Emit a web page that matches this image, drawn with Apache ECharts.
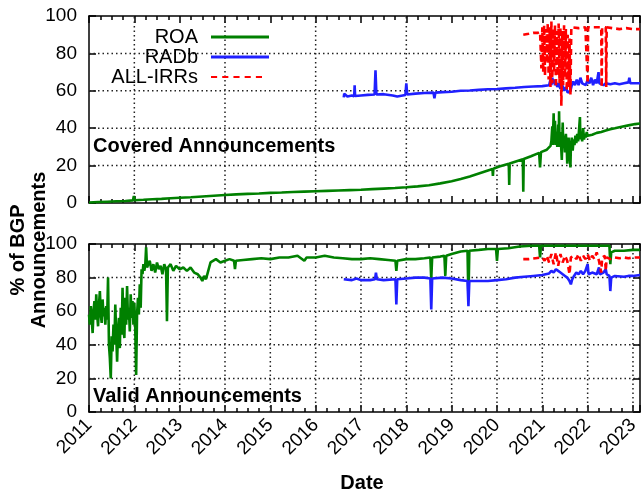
<!DOCTYPE html>
<html><head><meta charset="utf-8">
<script src="https://cdn.jsdelivr.net/npm/echarts@6/dist/echarts.min.js"></script>
<style>html,body{margin:0;padding:0;background:#fff}#c{width:644px;height:493px}</style>
</head><body><div id="c"></div>
<script>
// ---------- data (x = decimal year, y = % of BGP announcements) ----------
const seriesNames = ['ROA', 'RADb', 'ALL-IRRs'];
const panelTitles = ['Covered Announcements', 'Valid Announcements'];
const xRange = [2011, 2023.155];
const yRange = [0, 100];
const yStep = 20;
const yGridValues = [20, 40, 60, 80];
const gridYearsTop = [2012, 2014, 2016, 2018, 2020, 2022];
const gridYearsBottom = [2012, 2013, 2014, 2015, 2016, 2017, 2018, 2019, 2020, 2021, 2022, 2023];

const roaCovered = [
[2011.00,0.3],[2011.20,0.5],[2011.40,0.7],[2011.60,0.9],[2011.80,1.1],[2011.97,1.4],[2011.99,3.8],[2012.01,1.5],
[2012.20,1.7],[2012.40,2.0],[2012.60,2.2],[2012.80,2.5],[2013.00,2.8],[2013.25,3.1],[2013.50,3.5],[2013.75,3.9],
[2014.00,4.3],[2014.25,4.6],[2014.50,4.9],[2014.75,5.1],[2015.00,5.4],[2015.25,5.6],[2015.50,5.9],[2015.75,6.1],
[2016.00,6.3],[2016.25,6.5],[2016.50,6.7],[2016.75,6.9],[2017.00,7.1],[2017.25,7.4],[2017.50,7.7],[2017.75,8.0],
[2018.00,8.4],[2018.25,8.9],[2018.50,9.5],[2018.75,10.5],[2019.00,11.6],[2019.20,12.8],[2019.40,14.2],[2019.60,15.8],
[2019.80,17.4],[2019.90,18.2],[2019.91,14.5],[2019.92,18.3],[2020.05,19.5],[2020.26,21.0],[2020.27,9.6],[2020.28,21.1],
[2020.45,22.5],[2020.57,23.4],[2020.58,6.0],[2020.59,23.5],[2020.75,25.0],[2020.93,26.8],[2020.95,19.0],[2020.97,27.2],
[2021.10,28.5],[2021.18,30.5],[2021.20,33],[2021.22,41],[2021.23,31],[2021.25,48],[2021.26,32],[2021.28,44],
[2021.29,31],[2021.31,38],[2021.33,30],[2021.35,42],[2021.36,30],[2021.37,49],[2021.38,31],[2021.40,38],
[2021.42,28],[2021.43,23],[2021.44,33],[2021.45,43],[2021.46,31],[2021.48,36],[2021.50,27],[2021.52,37],
[2021.54,29],[2021.55,21],[2021.56,32],[2021.58,35],[2021.60,26],[2021.62,19],[2021.63,30],[2021.65,35],
[2021.67,28],[2021.69,34],[2021.71,31],[2021.73,36],[2021.75,32],[2021.77,37],[2021.79,33],[2021.81,39],
[2021.83,46],[2021.84,34],[2021.86,38],[2021.88,33],[2021.90,40],[2021.92,34],[2021.94,37],[2021.96,35],
[2021.98,38],[2022.00,36],[2022.10,36.5],[2022.20,37.5],[2022.30,38],[2022.40,38.8],[2022.50,39.5],[2022.60,40],
[2022.75,40.8],[2022.90,41.5],[2023.05,42.2],[2023.155,42.5]
];

const radbCovered = [
[2016.62,56.5],[2016.63,58.5],[2016.70,57],[2016.80,57.5],[2016.85,57],[2016.86,63],[2016.87,57.2],[2017.00,57.5],
[2017.15,57.8],[2017.30,58],[2017.32,71],[2017.34,58],[2017.50,58.2],[2017.70,57.5],[2017.80,57],[2017.98,57.8],
[2018.00,64],[2018.02,58],[2018.20,58.5],[2018.40,58.8],[2018.60,59],[2018.62,56],[2018.64,59],[2018.80,59.3],
[2019.00,59.5],[2019.20,60],[2019.40,60.2],[2019.60,60.5],[2019.80,60.8],[2020.00,61],[2020.20,61.3],[2020.40,61.6],
[2020.60,62],[2020.80,62.3],[2021.00,62.5],[2021.15,63],[2021.18,66],[2021.20,63],[2021.22,67],[2021.24,64],
[2021.26,66],[2021.28,63],[2021.30,65],[2021.33,62],[2021.36,64],[2021.40,61],[2021.44,63],[2021.48,60],
[2021.52,62],[2021.56,59],[2021.60,58],[2021.62,60],[2021.65,63],[2021.68,65],[2021.72,63],[2021.76,66],
[2021.80,63],[2021.84,67],[2021.88,64],[2021.92,65],[2021.96,63],[2022.00,66],[2022.04,64],[2022.08,67],
[2022.12,63],[2022.16,66],[2022.20,64],[2022.24,70],[2022.26,64],[2022.30,65],[2022.35,63],[2022.40,64],
[2022.50,63.5],[2022.60,64],[2022.70,63.5],[2022.80,64],[2022.90,64.5],[2022.92,67],[2022.94,64],[2023.05,64],
[2023.155,64]
];

const irrCovered = [
[2020.58,90],[2020.70,90.5],[2020.80,91],[2020.90,91],[2020.95,91.5],[2020.98,72],[2021.00,94],[2021.02,70],
[2021.04,95],[2021.06,68],[2021.08,93],[2021.10,75],[2021.12,96],[2021.14,66],[2021.16,94],[2021.18,62],
[2021.20,97],[2021.22,64],[2021.24,93],[2021.26,70],[2021.28,95],[2021.30,62],[2021.32,92],[2021.34,68],
[2021.36,96],[2021.38,64],[2021.40,94],[2021.42,52],[2021.44,92],[2021.46,63],[2021.48,95],[2021.50,67],
[2021.52,93],[2021.54,60],[2021.56,90],[2021.58,62],[2021.60,88],[2021.62,58],[2021.64,94],[2021.66,93],
[2021.80,93.5],[2021.95,94],[2021.99,94],[2022.00,64],[2022.01,94],[2022.15,94],[2022.30,94],[2022.31,62],
[2022.32,94],[2022.40,94],[2022.41,62],[2022.42,94],[2022.55,93.5],[2022.70,93],[2022.85,93.5],[2023.00,93],
[2023.155,93]
];

const roaValid = [
[2011.00,58],[2011.02,52],[2011.04,63],[2011.06,55],[2011.08,47],[2011.10,60],[2011.12,66],[2011.14,55],
[2011.16,70],[2011.18,58],[2011.20,51],[2011.22,64],[2011.24,72],[2011.26,58],[2011.28,53],[2011.30,67],
[2011.32,57],[2011.34,62],[2011.36,52],[2011.38,63],[2011.40,55],[2011.42,80],[2011.44,40],[2011.46,32],
[2011.48,20],[2011.50,45],[2011.52,36],[2011.54,52],[2011.56,40],[2011.58,64],[2011.60,46],[2011.62,30],
[2011.64,48],[2011.66,56],[2011.68,38],[2011.70,62],[2011.72,46],[2011.74,74],[2011.76,50],[2011.78,44],
[2011.80,68],[2011.82,52],[2011.84,75],[2011.86,55],[2011.88,62],[2011.90,48],[2011.92,70],[2011.94,56],
[2011.96,66],[2011.98,52],[2012.00,65],[2012.02,50],[2012.04,22],[2012.06,58],[2012.08,68],[2012.10,58],
[2012.12,76],[2012.14,62],[2012.16,85],[2012.18,82],[2012.20,88],[2012.22,84],[2012.24,87],[2012.26,98],
[2012.28,86],[2012.30,86],[2012.34,90],[2012.38,84],[2012.42,88],[2012.46,83],[2012.50,89],[2012.54,85],
[2012.58,87],[2012.62,82],[2012.66,88],[2012.70,85],[2012.72,54],[2012.74,86],[2012.80,88],[2012.86,84],
[2012.92,87],[2013.00,85],[2013.08,86],[2013.16,84],[2013.24,86],[2013.32,83],[2013.40,82],[2013.46,80],
[2013.50,78],[2013.54,81],[2013.58,79],[2013.62,83],[2013.66,82],[2013.68,89],[2013.72,90],[2013.80,91],
[2013.90,89],[2014.00,90],[2014.10,91],[2014.20,90],[2014.22,85],[2014.24,90],[2014.40,90.5],[2014.60,91],
[2014.80,91.5],[2015.00,91],[2015.20,92],[2015.40,92],[2015.60,93],[2015.75,90],[2015.80,92],[2016.00,92],
[2016.20,93],[2016.40,92],[2016.60,91.5],[2016.80,91],[2017.00,91],[2017.20,91.5],[2017.40,91],[2017.60,90.5],
[2017.76,90],[2017.78,84],[2017.80,90],[2018.00,91],[2018.20,91],[2018.40,91.5],[2018.53,92],[2018.55,79],
[2018.57,92],[2018.75,92.5],[2018.84,93],[2018.86,81],[2018.88,93],[2019.00,94],[2019.20,95.5],[2019.35,96],
[2019.37,67],[2019.39,96],[2019.60,96.5],[2019.80,97],[2019.98,97],[2020.00,90],[2020.02,97],[2020.25,97.5],
[2020.50,98.5],[2020.75,99],[2020.93,99],[2020.95,92],[2020.97,99],[2021.20,99],[2021.50,99],[2021.80,99],
[2022.00,99],[2022.20,99],[2022.40,99],[2022.48,99],[2022.50,88],[2022.52,95],[2022.60,96],[2022.80,96],
[2023.00,96.5],[2023.155,96.5]
];

const radbValid = [
[2016.62,79],[2016.80,78.5],[2016.90,79.5],[2017.00,78.5],[2017.20,78.5],[2017.31,79],[2017.33,83],[2017.35,79],
[2017.50,78.5],[2017.76,79],[2017.78,64],[2017.80,79],[2018.00,79.5],[2018.20,80],[2018.40,80],[2018.53,79.5],
[2018.55,61],[2018.57,79.5],[2018.80,80],[2019.00,79.5],[2019.20,78.5],[2019.35,78],[2019.37,63],[2019.39,78],
[2019.60,78],[2019.80,78],[2020.00,78.5],[2020.20,79],[2020.40,80],[2020.60,80.5],[2020.80,81],[2021.00,81.5],
[2021.15,82.5],[2021.20,84],[2021.25,83],[2021.30,85],[2021.35,84],[2021.40,83],[2021.45,82],[2021.50,81],
[2021.55,80],[2021.60,78],[2021.63,76],[2021.66,79],[2021.70,81],[2021.75,83],[2021.80,82],[2021.85,84],
[2021.90,82],[2021.95,84],[2022.00,88],[2022.02,82],[2022.10,83],[2022.20,82],[2022.25,86],[2022.27,82],
[2022.35,83],[2022.40,85],[2022.42,82],[2022.48,81],[2022.50,72],[2022.52,80],[2022.60,81],[2022.80,80.5],
[2022.90,81],[2023.00,81],[2023.155,81.5]
];

const irrValid = [
[2020.58,91],[2020.70,91],[2020.85,91.5],[2021.00,92],[2021.05,90],[2021.10,93],[2021.15,89],[2021.20,94],
[2021.25,88],[2021.30,95],[2021.35,87],[2021.40,94],[2021.45,89],[2021.50,93],[2021.55,90],[2021.60,82],
[2021.63,92],[2021.70,93],[2021.75,91],[2021.80,94],[2021.85,90],[2021.90,93],[2021.95,91],[2022.00,94],
[2022.05,90],[2022.10,93],[2022.15,91],[2022.20,95],[2022.25,90],[2022.30,83],[2022.32,92],[2022.38,93],
[2022.40,84],[2022.42,92],[2022.50,91],[2022.60,92],[2022.70,91.5],[2022.80,92],[2022.90,91.5],[2023.00,92],
[2023.155,92]
];

// ---------- layout / styling ----------
const FONT = '"Liberation Sans", Arial, Helvetica, sans-serif';
const colors = ['#008000', '#2020ff', '#ff0000'];
const grids = [
  { left: 89, top: 16, width: 551, height: 187 },
  { left: 89, top: 244, width: 551, height: 168 }
];
const MAJOR_PX = 7, MINOR_PX = 4;
const GUIDE_W = 1.5;

function xAxisPair(gi, labels, gridYears) {
  const mk = (position) => ({
    type: 'value', gridIndex: gi, position, min: xRange[0], max: xRange[1], interval: 1,
    axisLine: { show: true, onZero: false, lineStyle: { color: '#000', width: 1.5 } },
    axisTick: { show: true, inside: true, length: MAJOR_PX, lineStyle: { color: '#000', width: GUIDE_W } },
    minorTick: { show: true, splitNumber: 4, length: MINOR_PX, lineStyle: { color: '#000', width: GUIDE_W } },
    splitLine: { show: false },
    axisLabel: (labels && position === 'bottom') ? {
      show: true, rotate: 45, margin: 10, fontSize: 19, fontFamily: FONT, color: '#000',
      formatter: v => (Math.abs(v - Math.round(v)) < 1e-6 ? String(Math.round(v)) : '')
    } : { show: false }
  });
  return [mk('bottom'), mk('top')];
}

function yAxisPair(gi) {
  const mk = (position) => ({
    type: 'value', gridIndex: gi, position, min: yRange[0], max: yRange[1], interval: yStep,
    axisLine: { show: true, onZero: false, lineStyle: { color: '#000', width: 1.5 } },
    axisTick: { show: true, inside: true, length: MAJOR_PX, lineStyle: { color: '#000', width: GUIDE_W } },
    splitLine: { show: false },
    axisLabel: position === 'left' ? { show: true, margin: 12, fontSize: 19, fontFamily: FONT, color: '#000' } : { show: false }
  });
  return [mk('left'), mk('right')];
}

// dotted grid lines, drawn through the axes' scales: items are [value, kind], kind 0 = vertical, 1 = horizontal
function guideData(gridYears) {
  const d = [];
  gridYears.forEach(y => d.push([y, 0]));
  yGridValues.forEach(v => d.push([v, 1]));
  return d;
}

function renderGuide(params, api) {
  const v = api.value(0), kind = api.value(1);
  const dotted = { stroke: '#222', lineWidth: GUIDE_W, lineDash: [1.5, 3], fill: null };
  if (kind === 0) {
    const a = api.coord([v, yRange[0]]), b = api.coord([v, yRange[1]]);
    return { type: 'line', shape: { x1: a[0], y1: a[1], x2: b[0], y2: b[1] }, style: dotted };
  }
  const a = api.coord([xRange[0], v]), b = api.coord([xRange[1], v]);
  return { type: 'line', shape: { x1: a[0], y1: a[1], x2: b[0], y2: b[1] }, style: dotted };
}

function guideSeries(gi, gridYears) {
  return {
    name: 'guides-' + gi, type: 'custom', xAxisIndex: gi * 2, yAxisIndex: gi * 2, z: 1,
    silent: true, animation: false, clip: false,
    encode: { x: -1, y: -1 },
    data: guideData(gridYears), renderItem: renderGuide
  };
}

function mkSeries(name, data, gi, ci, dashed) {
  return {
    name, type: 'line', data, xAxisIndex: gi * 2, yAxisIndex: gi * 2,
    symbol: 'none', showSymbol: false, z: 3, animation: false,
    lineStyle: { color: colors[ci], width: 2.6, type: dashed ? [6, 4] : 'solid' },
    itemStyle: { color: colors[ci], borderWidth: 0 }
  };
}

const legendRows = [
  { name: seriesNames[0], top: 27, right: 375, w: 58, icon: 'rect' },
  { name: seriesNames[1], top: 47, right: 375, w: 58, icon: 'rect' },
  { name: seriesNames[2], top: 67, right: 382, w: 51,
    icon: 'path://M0,0h6v2h-6zM11,0h6v2h-6zM22,0h6v2h-6zM33,0h6v2h-6zM44,0h6v2h-6z' }
];

const option = {
  animation: false,
  grid: grids,
  xAxis: [...xAxisPair(0, false), ...xAxisPair(1, true)],
  yAxis: [...yAxisPair(0), ...yAxisPair(1)],
  legend: legendRows.map(r => ({
    data: [{ name: r.name, icon: r.icon }], top: r.top, right: r.right, orient: 'horizontal', align: 'right',
    padding: 0, itemWidth: r.w, itemHeight: 3, selectedMode: false,
    itemStyle: { borderWidth: 0 },
    textStyle: { fontSize: 20, fontFamily: FONT, color: '#000', padding: [0, 8, 0, 0] }
  })),
  series: [
    guideSeries(0, gridYearsTop),
    guideSeries(1, gridYearsBottom),
    mkSeries(seriesNames[0], roaCovered, 0, 0, false),
    mkSeries(seriesNames[1], radbCovered, 0, 1, false),
    mkSeries(seriesNames[2], irrCovered, 0, 2, true),
    mkSeries(seriesNames[0], roaValid, 1, 0, false),
    mkSeries(seriesNames[1], radbValid, 1, 1, false),
    mkSeries(seriesNames[2], irrValid, 1, 2, true)
  ],
  graphic: [
    { type: 'text', x: 93, y: 146, z: 100, style: { text: panelTitles[0], font: 'bold 20px ' + FONT, fill: '#000', align: 'left', verticalAlign: 'middle' } },
    { type: 'text', x: 93, y: 396, z: 100, style: { text: panelTitles[1], font: 'bold 20px ' + FONT, fill: '#000', align: 'left', verticalAlign: 'middle' } },
    { type: 'text', x: 28.5, y: 250, rotation: Math.PI / 2, style: { text: '% of BGP\nAnnouncements', font: 'bold 20px ' + FONT, lineHeight: 21, fill: '#000', align: 'center', verticalAlign: 'middle' } },
    { type: 'text', x: 362, y: 483, style: { text: 'Date', font: 'bold 20px ' + FONT, fill: '#000', align: 'center', verticalAlign: 'middle' } }
  ]
};

const chart = echarts.init(document.getElementById('c'), null, { renderer: 'canvas' });
chart.setOption(option);
</script></body></html>
